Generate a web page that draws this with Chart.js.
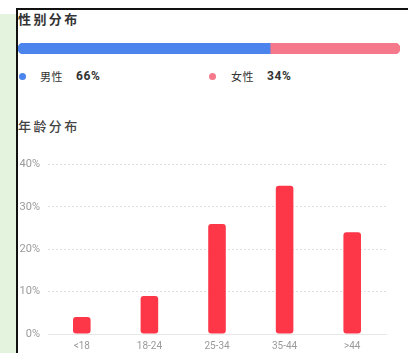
<!DOCTYPE html>
<html>
<head>
<meta charset="utf-8">
<script src="https://cdn.jsdelivr.net/npm/chart.js@4"></script>
<style>
  html, body { margin: 0; padding: 0; background: #fff; }
  body { width: 408px; height: 353px; position: relative; overflow: hidden;
         font-family: "Noto Sans CJK SC", "Noto Sans", sans-serif; }
  .side { position: absolute; left: 0; top: 14px; width: 16px; bottom: 0; background: #e4f3de; }
  .rule-top { position: absolute; left: 16px; top: 8px; right: 0; height: 2px; background: #111; }
  .rule-left { position: absolute; left: 16px; top: 8px; width: 2px; bottom: 0; background: #111; }
  .title { position: absolute; left: 18px; font-size: 13px; letter-spacing: 2.4px; color: #333; line-height: 16px; }
  .t1 { top: 11px; font-weight: 700; }
  .t2 { top: 118px; font-weight: 500; color: #444; }
  .legend { position: absolute; top: 68px; height: 16px; color: #333; white-space: nowrap; }
  .legend > * { position: absolute; top: 0; line-height: 16px; }
  .legend .dot { width: 7px; height: 7px; border-radius: 50%; top: 4.5px; }
  .legend .name { font-size: 11px; letter-spacing: 0.6px; }
  .legend .pct { font-family: Roboto, "Noto Sans", sans-serif; font-size: 12px; font-weight: 700; letter-spacing: 0.6px; }
  canvas { position: absolute; }
</style>
</head>
<body>
<div class="side"></div>
<div class="rule-top"></div>
<div class="rule-left"></div>

<div class="title t1">性别分布</div>
<canvas id="gender" width="382" height="11" style="left:18px; top:43px;"></canvas>
<div class="legend" id="legendMale" style="left:18px;"></div>
<div class="legend" id="legendFemale" style="left:208px;"></div>

<div class="title t2">年龄分布</div>
<canvas id="age" width="386" height="203" style="left:14px; top:150px;"></canvas>

<script>
// Gender split
const genderLabels = ['男性', '女性'];
const genderShares = [66, 34];
const genderColors = ['#4b84ec', '#f5798b'];

// Age distribution
const ageGroups = ['<18', '18-24', '25-34', '35-44', '>44'];
const ageShares = [4, 9, 26, 35, 24];
const ageTicks = [0, 10, 20, 30, 40];

// Legend rows under the gender bar: dot, name, bold share
['legendMale', 'legendFemale'].forEach((id, i) => {
  document.getElementById(id).innerHTML =
    '<span class="dot" style="left:1px; background:' + genderColors[i] + '"></span>' +
    '<span class="name" style="left:' + (22 + i) + 'px">' + genderLabels[i] + '</span>' +
    '<span class="pct" style="left:' + (58 + i) + 'px">' + genderShares[i] + '%</span>';
});

// Single stacked horizontal bar, rounded only at the outer ends
new Chart(document.getElementById('gender'), {
  type: 'bar',
  data: {
    labels: [''],
    datasets: genderShares.map((v, i) => ({
      label: genderLabels[i],
      data: [v],
      backgroundColor: genderColors[i],
      borderSkipped: false,
      borderRadius: i === 0
        ? { topLeft: 6, bottomLeft: 6, topRight: 0, bottomRight: 0 }
        : { topLeft: 0, bottomLeft: 0, topRight: 6, bottomRight: 6 },
      barPercentage: 1,
      categoryPercentage: 1
    }))
  },
  options: {
    indexAxis: 'y',
    responsive: false,
    animation: false,
    layout: { padding: 0 },
    plugins: { legend: { display: false }, tooltip: { enabled: false } },
    scales: {
      x: { display: false, stacked: true, min: 0, max: genderShares.reduce((a, b) => a + b, 0) },
      y: { display: false, stacked: true }
    }
  }
});

// Column chart of age groups
new Chart(document.getElementById('age'), {
  type: 'bar',
  data: {
    labels: ageGroups,
    datasets: [{
      data: ageShares,
      backgroundColor: '#fd3648',
      borderRadius: 3,
      borderSkipped: false,
      barPercentage: 0.26,
      categoryPercentage: 1
    }]
  },
  options: {
    responsive: false,
    animation: false,
    layout: { padding: { left: 0, right: 14, top: 10, bottom: 0 } },
    plugins: { legend: { display: false }, tooltip: { enabled: false } },
    scales: {
      x: {
        grid: { display: false, drawTicks: false },
        border: { display: true, color: '#e8e8e8', width: 1 },
        ticks: { color: '#9a9a9a', font: { size: 10, family: 'Roboto, "Noto Sans", sans-serif' }, padding: 6, maxRotation: 0 },
        afterFit: s => { s.height = 19; }
      },
      y: {
        min: 0,
        max: 40,
        afterBuildTicks: s => { s.ticks = ageTicks.map(v => ({ value: v })); },
        grid: {
          drawTicks: false,
          color: c => (c.tick && c.tick.value === 0 ? 'rgba(0,0,0,0)' : '#dedede'),
          lineWidth: 1
        },
        border: { display: false, dash: [2, 2] },
        ticks: {
          color: '#9a9a9a',
          font: { size: 11, family: 'Roboto, "Noto Sans", sans-serif' },
          padding: 8,
          callback: v => v + '%'
        },
        afterFit: s => { s.width = 34; }
      }
    }
  }
});
</script>
</body>
</html>
